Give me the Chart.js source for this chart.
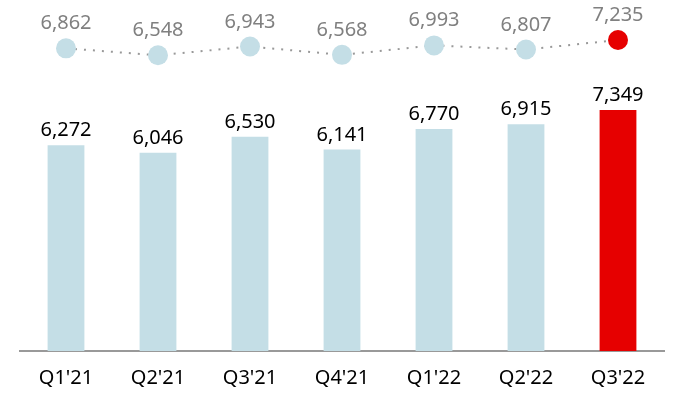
<!DOCTYPE html>
<html>
<head>
<meta charset="utf-8">
<script src="https://cdn.jsdelivr.net/npm/chart.js@4"></script>
<style>
  html, body { margin: 0; padding: 0; background: #fff; }
  #wrap { width: 684px; height: 410px; }
</style>
</head>
<body>
<div id="wrap"><canvas id="chart"></canvas></div>
<script>
const quarters = ["Q1'21", "Q2'21", "Q3'21", "Q4'21", "Q1'22", "Q2'22", "Q3'22"];
const barValues = [6272, 6046, 6530, 6141, 6770, 6915, 7349];
const lineValues = [6862, 6548, 6943, 6568, 6993, 6807, 7235];

const lightBlue = '#c4dee6';
const red = '#e60000';
const colorFor = (i) => (i === quarters.length - 1 ? red : lightBlue);

// draws value labels above bars and points
const valueLabels = {
  id: 'valueLabels',
  afterDatasetsDraw(chart) {
    const ctx = chart.ctx;
    ctx.save();
    ctx.font = '20px "Noto Sans"';
    ctx.textAlign = 'center';
    ctx.textBaseline = 'alphabetic';
    chart.data.datasets.forEach((ds, di) => {
      const meta = chart.getDatasetMeta(di);
      meta.data.forEach((el, i) => {
        const txt = ds.data[i].toLocaleString('en-US');
        if (ds.type === 'bar') {
          ctx.fillStyle = '#000';
          ctx.fillText(txt, el.x, el.y - 9);
        } else {
          ctx.fillStyle = '#808080';
          ctx.fillText(txt, el.x, el.y - 19);
        }
      });
    });
    ctx.restore();
  }
};

new Chart(document.getElementById('chart'), {
  data: {
    labels: quarters,
    datasets: [
      {
        type: 'line',
        data: lineValues,
        yAxisID: 'y2',
        borderColor: '#999',
        borderWidth: 2,
        borderDash: [2, 7],
        pointRadius: 10,
        pointBorderWidth: 0,
        pointBackgroundColor: lineValues.map((v, i) => colorFor(i)),
        order: 0
      },
      {
        type: 'bar',
        data: barValues,
        yAxisID: 'y',
        backgroundColor: barValues.map((v, i) => colorFor(i)),
        barPercentage: 0.4,
        categoryPercentage: 1,
        order: 1
      }
    ]
  },
  options: {
    responsive: true,
    maintainAspectRatio: false,
    animation: false,
    layout: { autoPadding: false, padding: { left: 20, right: 20, top: 0, bottom: 5 } },
    plugins: { legend: { display: false }, tooltip: { enabled: false } },
    scales: {
      x: {
        grid: { display: false, drawTicks: false },
        border: { display: true, color: '#999', width: 2 },
        ticks: { color: '#000', padding: 15, font: { family: 'Noto Sans', size: 20 } }
      },
      y: { display: false, min: 0, max: 10700 },
      y2: { display: false, min: -6730, max: 9031 }
    }
  },
  plugins: [valueLabels]
});
</script>
</body>
</html>
